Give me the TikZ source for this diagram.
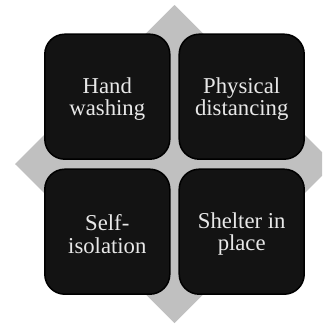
\documentclass[tikz,border=0pt]{standalone}
\usepackage{fontspec}
\setmainfont{Liberation Serif}
\definecolor{diamondgray}{HTML}{C0C0C0}
\definecolor{boxfill}{HTML}{131313}
\definecolor{txtcol}{HTML}{E8E8E8}
\begin{document}
\begin{tikzpicture}[x=1pt,y=-1pt,
  quad/.style={draw=black, line width=1.5pt, fill=boxfill, rounded corners=20pt,
    minimum width=125pt, minimum height=125pt, inner sep=0pt},
  lbl/.style={text=txtcol, align=center, inner sep=0pt,
    font=\fontsize{22.7pt}{22.4pt}\selectfont}]
\useasboundingbox (0,0) rectangle (322,324);
\begin{scope}
\clip (0,0) rectangle (322,324);
\fill[diamondgray] (174.5,5) -- (334,164) -- (174.5,323) -- (15,164) -- cycle;
\end{scope}
\node[quad] (hw) at (107.3,96.7) {};
\node[quad] (pd) at (241.7,96.7) {};
\node[quad] (si) at (107.3,231.7) {};
\node[quad] (sp) at (241.7,231.7) {};
\node[lbl] (hwt) at ([yshift=-2.5pt]hw.center) {Hand\\washing};
\node[lbl] (pdt) at ([yshift=-2.5pt]pd.center) {Physical\\distancing};
\node[lbl] (sit) at ([yshift=-2.5pt]si.center) {Self-\\isolation};
\node[lbl] (spt) at ([yshift=-2.5pt]sp.center) {Shelter in\\place};
\end{tikzpicture}
\end{document}
